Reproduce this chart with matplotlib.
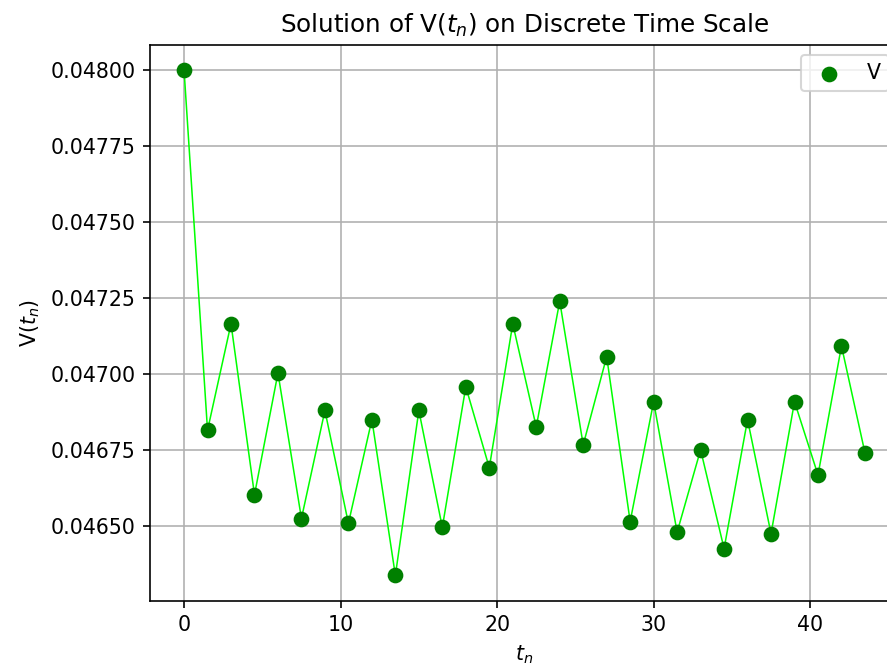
import numpy as np
import matplotlib
matplotlib.use("Agg")
import matplotlib.pyplot as plt

# discrete time points and solution values
t_n = [0, 1.5, 3, 4.5, 6, 7.5, 9, 10.5, 12, 13.5, 15, 16.5, 18, 19.5, 21,
       22.5, 24, 25.5, 27, 28.5, 30, 31.5, 33, 34.5, 36, 37.5, 39, 40.5, 42, 43.5]
V = [0.04800, 0.046816, 0.047166, 0.046604, 0.047004, 0.046526, 0.046881,
     0.046510, 0.046851, 0.046339, 0.046881, 0.046497, 0.046959, 0.046693,
     0.047166, 0.046827, 0.047240, 0.046768, 0.047058, 0.046516, 0.046910,
     0.046481, 0.046752, 0.046427, 0.046851, 0.046476, 0.046910, 0.046669,
     0.047093, 0.046742]

dpi = 148
fig = plt.figure(figsize=(887 / dpi, 667 / dpi), dpi=dpi)
ax = fig.add_axes([150 / 887, 1 - 600.7 / 667, 749 / 887, 556 / 667])

ax.plot(t_n, V, color="lime", linewidth=0.75)
ax.scatter(t_n, V, color="green", s=44, label="V", zorder=3)

ax.set_xlabel("$t_n$")
ax.set_ylabel("V($t_n$)")
ax.set_title("Solution of V($t_n$) on Discrete Time Scale")
ax.ticklabel_format(axis="y", useOffset=False)
ax.grid(True)
ax.legend(loc="upper right")

fig.savefig("out.png", dpi=dpi)
